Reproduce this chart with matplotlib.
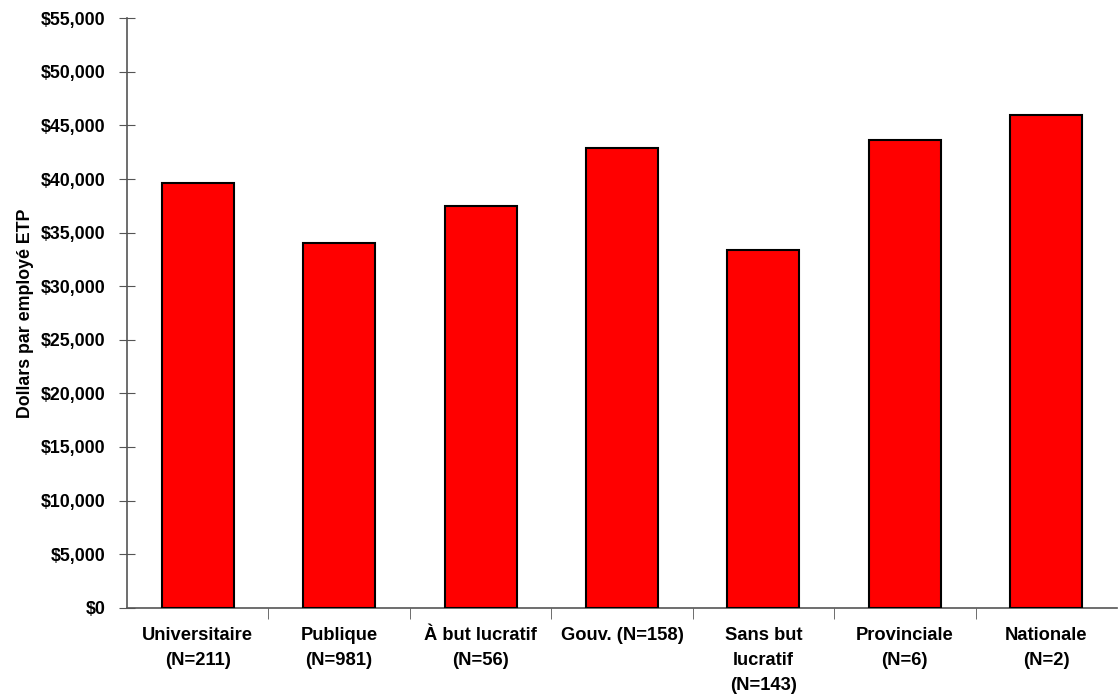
import matplotlib.pyplot as plt
import numpy as np
from matplotlib.ticker import FuncFormatter, MultipleLocator, FixedLocator

plt.rcParams['font.family'] = ['Liberation Sans', 'DejaVu Sans']
plt.rcParams['font.weight'] = 'bold'

categories = ["Universitaire\n(N=211)", "Publique\n(N=981)", "À but lucratif\n(N=56)",
              "Gouv. (N=158)", "Sans but\nlucratif\n(N=143)", "Provinciale\n(N=6)",
              "Nationale\n(N=2)"]
values = [39600, 34060, 37510, 42930, 33410, 43620, 45980]

fig = plt.figure(figsize=(11.18, 7), dpi=100)
ax = fig.add_axes([0.1136, 0.1319, 0.8855, 0.842])

x = np.arange(len(categories))
ax.bar(x, values, width=0.51, color='#ff0000', edgecolor='black', linewidth=1.5, zorder=3)

ax.set_xlim(-0.5, len(categories) - 0.5)
ax.set_ylim(0, 55000)
ax.yaxis.set_major_locator(MultipleLocator(5000))
ax.yaxis.set_major_formatter(FuncFormatter(lambda v, p: "${:,.0f}".format(v)))

ax.set_xticks(x)
ax.set_xticklabels(categories, fontsize=13.2, fontweight='bold', linespacing=1.6)
ax.tick_params(axis='x', which='major', length=0, pad=14)
ax.xaxis.set_minor_locator(FixedLocator(np.arange(0.5, len(categories) - 0.5, 1)))
ax.tick_params(axis='x', which='minor', length=8, direction='out', color='#555555')
ax.tick_params(axis='y', which='major', length=12, direction='inout', color='#555555',
               labelsize=12.8, pad=9.5)
for lab in ax.get_yticklabels():
    lab.set_fontweight('bold')

ax.set_ylabel("Dollars par employé ETP", fontsize=12.8, fontweight='bold', labelpad=5)

for s in ['top', 'right']:
    ax.spines[s].set_visible(False)
for s in ['left', 'bottom']:
    ax.spines[s].set_color('#555555')
    ax.spines[s].set_linewidth(1.2)

fig.savefig("out.png", dpi=100)
